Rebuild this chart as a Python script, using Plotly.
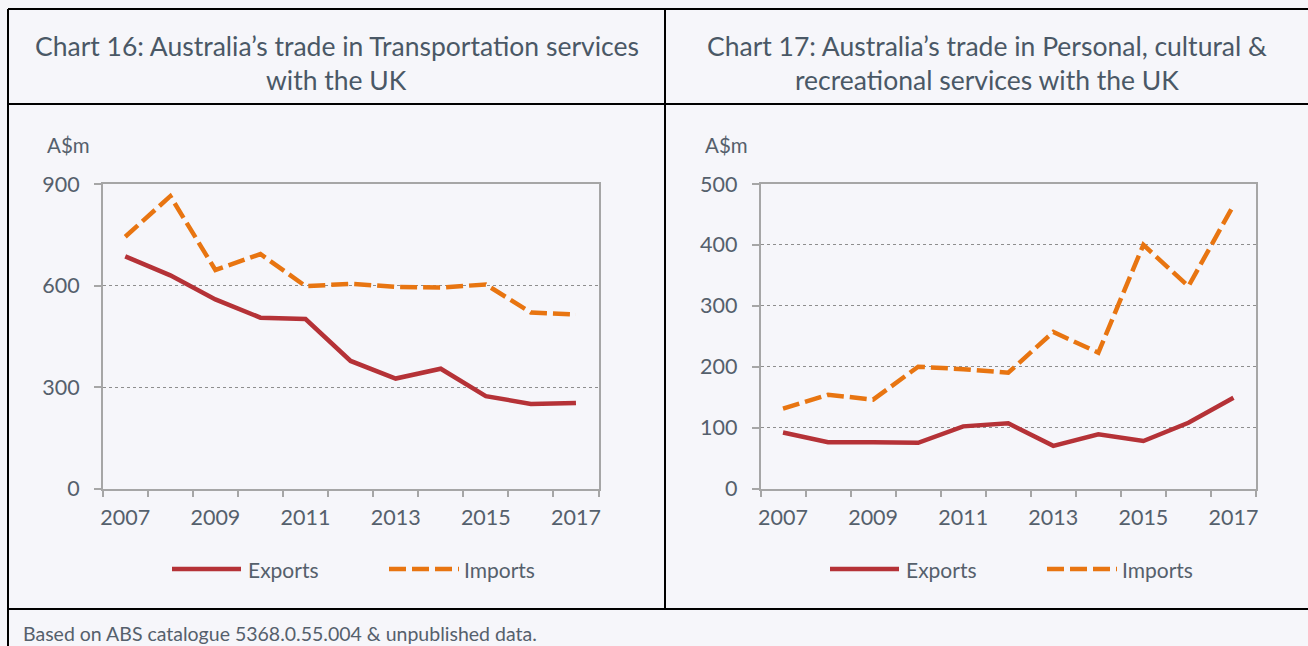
import plotly.graph_objects as go

# ---------------- data ----------------
years = ["2007", "2008", "2009", "2010", "2011", "2012", "2013", "2014", "2015", "2016", "2017"]
year_labels = ["2007", "", "2009", "", "2011", "", "2013", "", "2015", "", "2017"]

transport_exports = [686, 630, 559, 505, 501, 377, 325, 354, 273, 250, 253]
transport_imports = [744, 864, 646, 693, 598, 605, 596, 594, 603, 520, 514]

personal_exports = [92, 76, 76, 75, 102, 107, 70, 89, 78, 108, 149]
personal_imports = [131, 154, 146, 200, 196, 190, 257, 223, 400, 332, 465]

transport_ticks = [0, 300, 600, 900]
personal_ticks = [0, 100, 200, 300, 400, 500]

series_names = ["Exports", "Imports"]
titles = [
    ["Chart 16: Australia\u2019s trade in Transportation services", "with the UK"],
    ["Chart 17: Australia\u2019s trade in Personal, cultural &", "recreational services with the UK"],
]
unit_label = "A$m"
footer = "Based on ABS catalogue 5368.0.55.004 & unpublished data."

# ---------------- style ----------------
W, H = 1308, 646
BG = "#F6F6FA"
RED = "#B53237"
ORANGE = "#E87511"
TXT = "#4A5866"
TICK_TXT = "#55606C"
FRAME = "#A6A6A6"
GRID = "#8E8E8E"
FONT = "Lato"
DASH = "17px,6px"
LW = 4.5


def X(px):
    return px / W


def Y(py):
    return 1 - py / H


fig = go.Figure()

panels = [
    dict(xa="x", ya="y", exp=transport_exports, imp=transport_imports),
    dict(xa="x2", ya="y2", exp=personal_exports, imp=personal_imports),
]
for p in panels:
    fig.add_trace(go.Scatter(x=years, y=p["exp"], name=series_names[0], mode="lines",
                             line=dict(color=RED, width=LW), xaxis=p["xa"], yaxis=p["ya"],
                             showlegend=False))
    fig.add_trace(go.Scatter(x=years, y=p["imp"], name=series_names[1], mode="lines",
                             line=dict(color=ORANGE, width=LW, dash=DASH), xaxis=p["xa"],
                             yaxis=p["ya"], showlegend=False))

plot_top, plot_bot = 184, 488.5
left_domains = [(102.7, 598.5), (760.5, 1256)]

xcommon = dict(type="category", categoryorder="array", categoryarray=years,
               range=[-0.5, len(years) - 0.5], tickmode="array", tickvals=years,
               ticktext=year_labels, tickson="boundaries", ticks="outside", ticklen=7,
               tickwidth=1.5, tickcolor=FRAME, showline=True, linecolor=FRAME, linewidth=1.5,
               mirror=True, showgrid=False, zeroline=False, tickangle=0, automargin=False,
               tickfont=dict(family=FONT, size=21.5, color=TICK_TXT), ticklabelstandoff=9,
               fixedrange=True)
ycommon = dict(ticks="outside", ticklen=7, tickwidth=1.5, tickcolor=FRAME, showline=True,
               linecolor=FRAME, linewidth=1.5, mirror=True, showgrid=True, gridcolor=GRID,
               gridwidth=1, griddash="dot", zeroline=False, automargin=False,
               tickfont=dict(family=FONT, size=21.5, color=TICK_TXT), ticklabelstandoff=10,
               fixedrange=True)

fig.update_layout(
    xaxis=dict(xcommon, domain=[X(left_domains[0][0]), X(left_domains[0][1])], anchor="y"),
    yaxis=dict(ycommon, domain=[Y(plot_bot), Y(plot_top)], range=[0, 900],
               tickvals=transport_ticks, anchor="x"),
    xaxis2=dict(xcommon, domain=[X(left_domains[1][0]), X(left_domains[1][1])], anchor="y2"),
    yaxis2=dict(ycommon, domain=[Y(plot_bot), Y(plot_top)], range=[0, 500],
                tickvals=personal_ticks, anchor="x2"),
)

shapes = []
# black panel borders
blk = dict(color="black", width=2)
for (x0, y0, x1, y1) in [(8, 9, W, 9), (8, 9, 8, H), (665, 9, 665, 609),
                         (8, 104, W, 104), (8, 609, W, 609)]:
    shapes.append(dict(type="line", xref="paper", yref="paper", x0=X(x0), y0=Y(y0),
                       x1=X(x1), y1=Y(y1), line=blk, layer="above"))

annotations = []
centers = [336.5, 986.5]
offsets = [0, 658]
for i in range(2):
    for j, line in enumerate(titles[i]):
        annotations.append(dict(text=line, xref="paper", yref="paper", x=X(centers[i]),
                                y=Y(46 + 34 * j), xanchor="center", yanchor="middle",
                                showarrow=False, font=dict(family=FONT, size=26.5, color=TXT)))
    off = offsets[i]
    annotations.append(dict(text=unit_label, xref="paper", yref="paper", x=X(45 + off),
                            y=Y(145), xanchor="left", yanchor="middle", showarrow=False,
                            font=dict(family=FONT, size=20.5, color=TICK_TXT)))
    # legend swatches
    shapes.append(dict(type="line", xref="paper", yref="paper", x0=X(172 + off), x1=X(241 + off),
                       y0=Y(569), y1=Y(569), line=dict(color=RED, width=LW)))
    shapes.append(dict(type="line", xref="paper", yref="paper", x0=X(389 + off), x1=X(459 + off),
                       y0=Y(569), y1=Y(569), line=dict(color=ORANGE, width=LW, dash=DASH)))
    annotations.append(dict(text=series_names[0], xref="paper", yref="paper", x=X(246 + off),
                            y=Y(569), xanchor="left", yanchor="middle", showarrow=False,
                            font=dict(family=FONT, size=21, color=TICK_TXT)))
    annotations.append(dict(text=series_names[1], xref="paper", yref="paper", x=X(462 + off),
                            y=Y(569), xanchor="left", yanchor="middle", showarrow=False,
                            font=dict(family=FONT, size=21, color=TICK_TXT)))

annotations.append(dict(text=footer, xref="paper", yref="paper", x=X(21), y=Y(633),
                        xanchor="left", yanchor="middle", showarrow=False,
                        font=dict(family=FONT, size=19.5, color=TICK_TXT)))

fig.update_layout(
    width=W, height=H, autosize=False,
    margin=dict(l=0, r=0, t=0, b=0, pad=0, autoexpand=False),
    paper_bgcolor=BG, plot_bgcolor=BG,
    shapes=shapes, annotations=annotations,
    showlegend=False,
    font=dict(family=FONT, color=TXT),
)

fig.write_html("out.html", config={"displayModeBar": False},
               post_script="document.body.style.margin='0';document.body.style.overflow='hidden';")
